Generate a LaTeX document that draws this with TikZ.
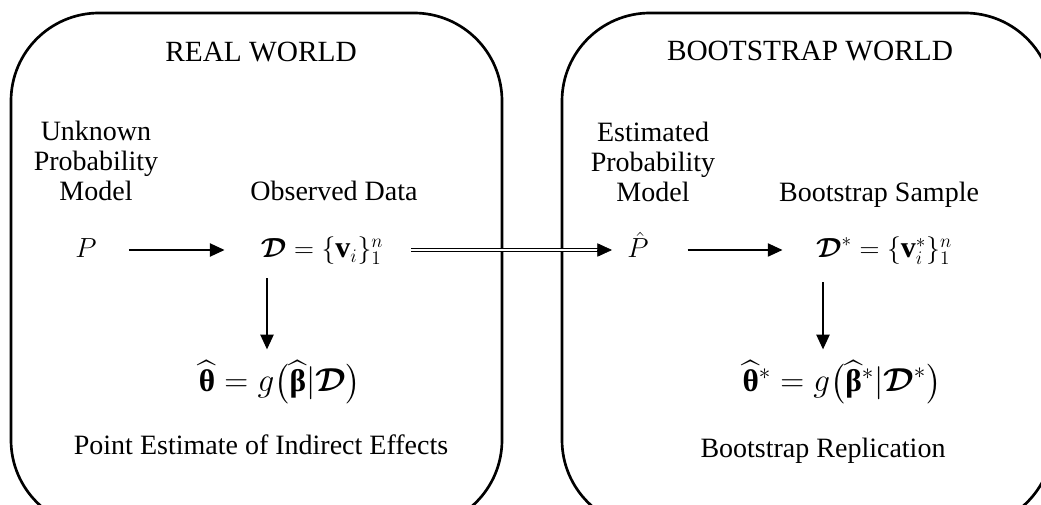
\documentclass[tikz,border=0pt]{standalone}
\usepackage{amsmath,bm}
\usepackage{fontspec}
\setmainfont{Liberation Serif}
\usetikzlibrary{arrows.meta}
\begin{document}
\begin{tikzpicture}[x=0.75pt,y=-0.75pt,
  world/.style={draw, line width=2pt, rounded corners=66pt},
  lbl/.style={font=\fontsize{21}{22.5}\selectfont, align=center, inner sep=0pt},
  ttl/.style={font=\fontsize{22}{26}\selectfont, inner sep=0pt, anchor=base},
  eq/.style={font=\fontsize{22.5}{26}\selectfont, inner sep=0pt, anchor=base},
  eqb/.style={font=\fontsize{23.5}{27}\selectfont, inner sep=0pt, anchor=base},
  arr/.style={-{Triangle[length=11pt,width=10pt]}, line width=0.9pt},
  dline/.style={double, double distance=1.9pt, line width=0.75pt}]
\clip (0,0) rectangle (1041,505);
\fill[white] (0,0) rectangle (1041,505);
% worlds
\draw[world] (11,13) rectangle (502,528);
\draw[world] (562,13) rectangle (1053,528);
% real world
\node[ttl] (titleL) at (261,62) {REAL WORLD};
\node[lbl] (unkL) at (96,161) {Unknown\\Probability\\Model};
\node[lbl, anchor=base] (obsL) at (334,201) {Observed Data};
\node[eq] (P) at (86,258) {$P$};
\node[eq] (DL) at (322,258) {$\boldsymbol{\mathcal{D}} = \{\mathbf{v}_i\}_1^n$};
\node[eqb] (thL) at (280,392) {$\widehat{\text{\bfseries θ}} = g\bigl(\widehat{\text{\bfseries β}}|\boldsymbol{\mathcal{D}}\bigr)$};
\node[lbl, anchor=base] (ptL) at (261,454) {Point Estimate of Indirect Effects};
% bootstrap world
\node[ttl] (titleR) at (810,61) {BOOTSTRAP WORLD};
\node[lbl] (estR) at (653,162) {Estimated\\Probability\\Model};
\node[lbl, anchor=base] (bsR) at (879,202) {Bootstrap Sample};
\node[eq] (Ph) at (638,258) {$\hat{P}$};
\node[eq] (DR) at (884,258) {$\boldsymbol{\mathcal{D}}^* = \{\mathbf{v}_i^*\}_1^n$};
\node[eqb] (thR) at (842,392) {${\widehat{\text{\bfseries θ}}}{}^* = g\bigl({\widehat{\text{\bfseries β}}}{}^*|\boldsymbol{\mathcal{D}}^*\bigr)$};
\node[lbl, anchor=base] (repR) at (823,457) {Bootstrap Replication};
% connectors
\coordinate (dlx) at (267,0);
\coordinate (drx) at (823,0);
\coordinate (dtip) at (612,250);
\draw[arr] ([xshift=24pt]P.east |- 0,250) -- ([xshift=-27pt]DL.west |- 0,250);
\draw[dline] ([xshift=21pt]DL.east |- dtip) -- ([xshift=-10pt]dtip);
\draw[arr, line width=0.5pt] ([xshift=-11pt]dtip) -- (dtip);
\draw[arr] ([xshift=29pt]Ph.east |- 0,250) -- ([xshift=-25pt]DR.west |- 0,250);
\draw[arr] (DL.south -| dlx) ++(0,13) -- ([yshift=8pt]thL.north -| dlx);
\draw[arr] (DR.south -| drx) ++(0,17) -- ([yshift=8pt]thR.north -| drx);
\end{tikzpicture}
\end{document}
